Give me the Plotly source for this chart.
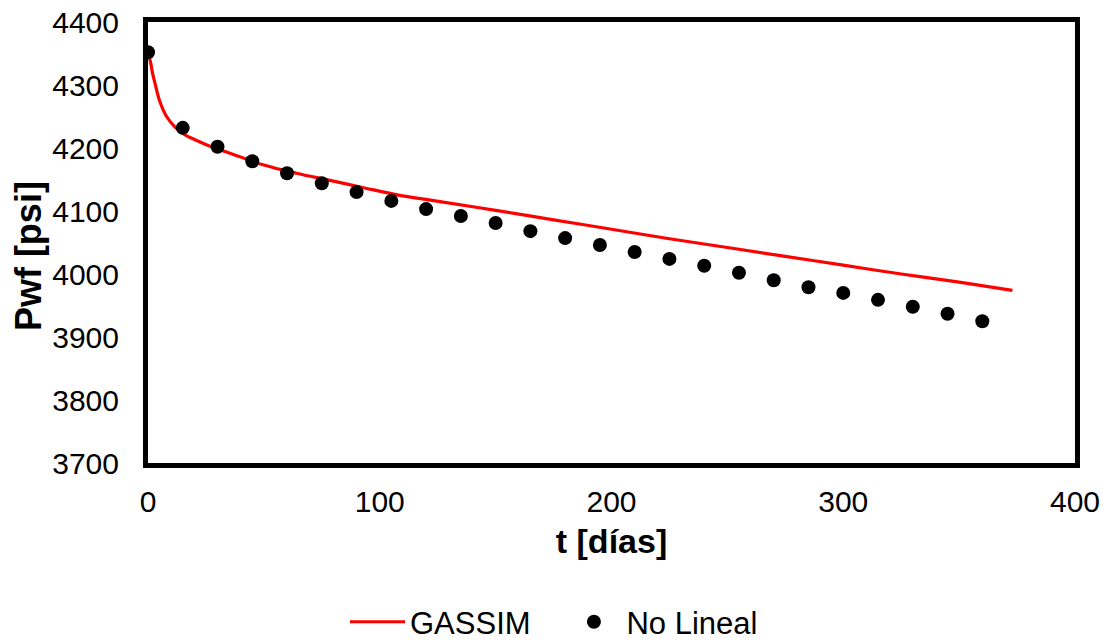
import plotly.graph_objects as go

# GASSIM simulated curve
t_gassim = [0, 1, 2, 3, 5, 8, 12, 16, 21, 28, 35, 50, 64, 78, 93, 107, 126,
            150, 175, 200, 225, 250, 275, 300, 325, 350, 373]
p_gassim = [4350, 4338, 4318, 4303, 4275, 4250, 4232, 4221, 4212, 4201, 4192,
            4173, 4160, 4149, 4137, 4126, 4115, 4101, 4086, 4071, 4056, 4042,
            4028, 4014, 4000, 3987, 3974]

# No Lineal points
t_nl = [0, 15, 30, 45, 60, 75, 90, 105, 120, 135, 150, 165, 180, 195, 210,
        225, 240, 255, 270, 285, 300, 315, 330, 345, 360]
p_nl = [4352, 4232, 4202, 4179, 4160, 4144, 4130, 4116, 4103, 4092, 4081,
        4068, 4057, 4046, 4035, 4024, 4013, 4002, 3990, 3979, 3970, 3959,
        3948, 3937, 3925]

x_ticks = [0, 100, 200, 300, 400]
y_ticks = [3700, 3800, 3900, 4000, 4100, 4200, 4300, 4400]

FONT = "Liberation Sans, Arial, sans-serif"
NB = "\u00a0"

fig = go.Figure()
fig.add_trace(go.Scatter(x=t_gassim, y=p_gassim, mode="lines", name="GASSIM" + NB * 3,
                         line=dict(color="#ff0000", width=3.2, shape="spline")))
fig.add_trace(go.Scatter(x=t_nl, y=p_nl, mode="markers", name="No Lineal",
                         marker=dict(color="#000000", size=14)))

fig.update_layout(
    width=1108, height=640,
    margin=dict(l=148, r=33, t=22, b=177, autoexpand=False),
    paper_bgcolor="white", plot_bgcolor="white",
    font=dict(family=FONT, size=30, color="#000000"),
    showlegend=True,
    legend=dict(orientation="h", x=0.5, xanchor="center", xref="container",
                y=0.028, yanchor="middle", yref="container",
                font=dict(size=31), itemwidth=55, tracegroupgap=0),
    xaxis=dict(range=[0, 400], tickvals=x_ticks, showgrid=False, zeroline=False,
               showline=True, linecolor="black", linewidth=5, mirror=True,
               ticks="", ticklabelstandoff=8,
               tickfont=dict(size=30),
               title=dict(text="<b>t [días]</b>", font=dict(size=34), standoff=14)),
    yaxis=dict(range=[3700, 4400], tickvals=y_ticks, showgrid=False, zeroline=False,
               showline=True, linecolor="black", linewidth=5, mirror=True,
               ticks="", ticklabelstandoff=18,
               tickfont=dict(size=30)),
    annotations=[dict(text="<b>Pwf [psi]</b>", xref="paper", yref="paper",
                      x=-0.1295, y=0.469, xanchor="center", yanchor="middle",
                      textangle=-90, showarrow=False,
                      font=dict(size=36, family=FONT, color="#000000"))],
)

fig.write_html("out.html")
